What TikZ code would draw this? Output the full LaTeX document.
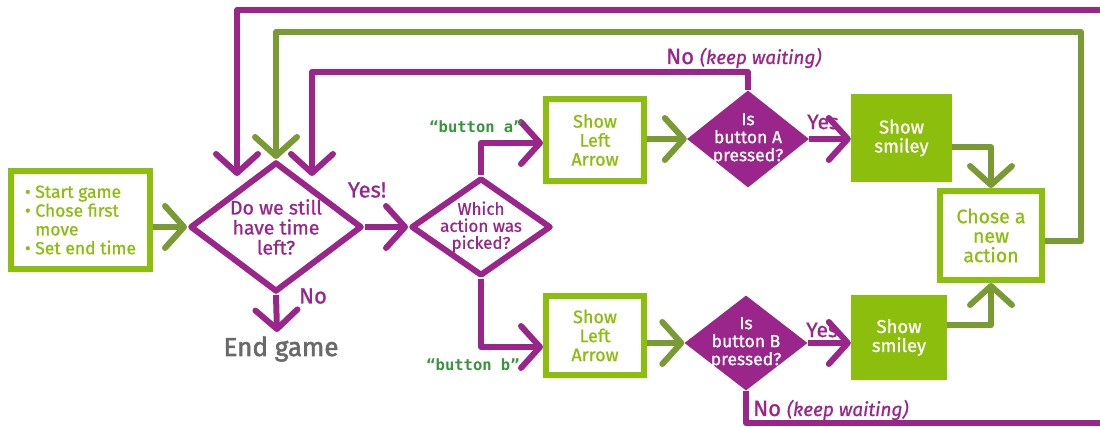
\documentclass[tikz,border=0pt]{standalone}
\usepackage{fontspec}
\setmainfont{Fira Sans}[FakeBold=0.9]
\newfontfamily\endfont{Fira Sans}[FakeBold=2.2]
\setmonofont{DejaVu Sans Mono}
\usetikzlibrary{shapes.geometric,arrows.meta,calc}
\definecolor{kpurple}{RGB}{155,38,139}
\definecolor{klgreen}{RGB}{140,190,14}
\definecolor{kdgreen}{RGB}{122,155,51}
\definecolor{kcode}{RGB}{55,150,60}
\definecolor{kgray}{RGB}{105,105,105}
\newcommand{\fs}[2]{\fontsize{#1}{#2}\selectfont}
\begin{document}
\begin{tikzpicture}[x=1pt,y=-1pt,
  tipstyle/.style={-{Straight Barb[length=19pt,width=42pt,round]}},
  pconn/.style={draw=kpurple,line width=6pt,line join=round,tipstyle},
  gconn/.style={draw=kdgreen,line width=6pt,line join=round,tipstyle},
  pline/.style={draw=kpurple,line width=6pt,line join=round},
  obox/.style={draw=klgreen,line width=6pt,fill=white,inner sep=0pt,text=klgreen,align=center},
  fbox/.style={fill=klgreen,inner sep=0pt,text=white,align=center},
  odiam/.style={diamond,draw=kpurple,line width=6pt,fill=white,inner sep=0pt,line join=round},
  fdiam/.style={diamond,fill=kpurple,inner sep=0pt},
  plabel/.style={text=kpurple,inner sep=0pt},
  codelbl/.style={text=kcode,inner sep=0pt,font=\ttfamily\bfseries\fs{15.5}{17}}]
\useasboundingbox (0,0) rectangle (1100,427);
\clip (0,0) rectangle (1100,427);

% nodes
\node[obox,minimum width=139pt,minimum height=98pt,align=left,font=\fs{17.5}{18.8}] (start) at (80.5,220)
  {\textbullet\ Start game\\ \textbullet\ Chose first\\ \phantom{\textbullet\ }move\\ \textbullet\ Set end time};
\node[odiam,minimum width=172pt,minimum height=130pt] (d1) at (276,227) {};
\node[plabel,align=center,font=\fs{19.5}{20}] (d1t) at (d1) {Do we still\\have time\\left?};
\node[odiam,minimum width=140pt,minimum height=98pt] (d2) at (481,227) {};
\node[plabel,align=center,font=\fs{17}{17}] (d2t) at (d2) {Which\\action was\\picked?};
\node[obox,minimum width=98pt,minimum height=82pt,font=\fs{18}{19}] (boxA) at (595,140) {Show\\Left\\Arrow};
\node[obox,minimum width=98pt,minimum height=79pt,font=\fs{18}{19}] (boxB) at (595,335.5) {Show\\Left\\Arrow};
\node[fdiam,minimum width=122pt,minimum height=97pt] (dA) at (748,139) {};
\node[text=white,align=center,font=\fs{17.5}{18}] (dAt) at (dA) {Is\\button A\\pressed?};
\node[fdiam,minimum width=123pt,minimum height=95pt] (dB) at (746,343) {};
\node[text=white,align=center,font=\fs{17.5}{18}] (dBt) at (dB) {Is\\button B\\pressed?};
\node[fbox,minimum width=101pt,minimum height=88pt,font=\fs{18.5}{19}] (smA) at (901.5,138) {Show\\smiley};
\node[fbox,minimum width=96pt,minimum height=85pt,font=\fs{18.5}{19}] (smB) at (899,337.5) {Show\\smiley};
\node[obox,minimum width=102pt,minimum height=89pt,font=\fs{19.5}{19.5}] (chose) at (991,235.5) {Chose a\\new\\action};
\node[text=kgray,inner sep=0pt,font=\endfont\fs{26}{28}] (endg) at (281,349) {End game};

% coordinates
\coordinate (endtip) at (277,332);
\coordinate (pt1) at (237,176);
\coordinate (pt3) at (312,176);
\coordinate (ntop) at (0,72);
\coordinate (ptop) at (1115,10);
\coordinate (gtop) at (1081,32);
\coordinate (nbot) at (1115,423);

% connectors
\draw[pline,-{Straight Barb[length=19pt,width=42pt,round]}] (ptop) -| (pt1);
\draw[pconn] (dA.north) -- (dA.north |- ntop) -| (pt3);
\draw[gconn] ($(chose.east)+(0,6)$) -| (gtop) -| (d1.north);
\draw[gconn] (d1.west -| start.east) -- (d1.west);
\draw[pconn] (d1.east) -- (d2.west);
\draw[pconn] (d1.south) -- (endtip);
\draw[pconn] (d2.north) |- ($(boxA.west)+(0,3)$);
\draw[pconn] (d2.south) |- ($(boxB.west)+(0,11.5)$);
\draw[gconn] (dA.west -| boxA.east) -- (dA.west);
\draw[gconn] (dB.west -| boxB.east) -- (dB.west);
\draw[pconn] (dA.east) -- (smA.west |- dA.east);
\draw[pconn] (dB.east) -- (smB.west |- dB.east);
\draw[gconn] ($(smA.east)+(0,9)$) -| (chose.north);
\draw[gconn] ($(smB.east)+(0,-12)$) -| (chose.south);
\draw[pline] (dB.south) |- (nbot);

% labels
\node[plabel,font=\fs{22}{22}] (yes1) at (367,190) {Yes!};
\node[plabel,font=\fs{22}{22}] (no1) at (313,296) {No};
\node[plabel,font=\fs{21}{21}] (yesA) at (823,122) {Yes};
\node[plabel,font=\fs{21}{21}] (yesB) at (822,330) {Yes};
\node[plabel,anchor=west,font=\fs{22}{23}] (noA) at (666,58) {No {\itshape\fs{19}{19}(keep waiting)}};
\node[plabel,anchor=west,font=\fs{22}{23}] (noB) at (753,410) {No {\itshape\fs{19}{19}(keep waiting)}};
\node[codelbl] (ba) at (476,127) {“button a”};
\node[codelbl] (bb) at (473,365) {“button b”};
\end{tikzpicture}
\end{document}
